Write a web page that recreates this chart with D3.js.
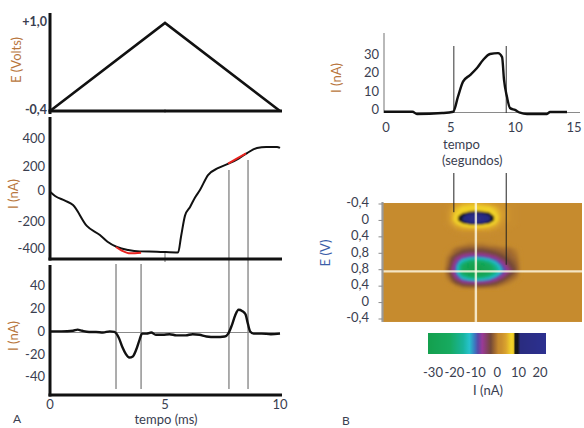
<!DOCTYPE html>
<html><head><meta charset="utf-8">
<script src="https://cdn.jsdelivr.net/npm/d3@7"></script>
<style>
html,body{margin:0;padding:0;background:#fff;}
svg{display:block;font-family:Lato,"Open Sans",sans-serif;}
</style></head><body>
<svg id="c" width="584" height="428"></svg>
<script>
// ================= DATA =================
// Panel A – top: applied potential ramp
const rampTime = [0, 5, 10];
const rampE = [-0.4, 1.0, -0.4];
const eTickValues = [-0.4, 1.0];
const eTickLabels = ["-0,4", "+1,0"];

// Panel A – middle: cyclic voltammogram current
const cvTime    = [0, 0.22, 0.65, 1.0, 1.6, 2.17, 2.5, 2.91, 3.4, 3.91, 4.65, 5.57, 5.7, 5.87, 6.09, 6.3, 6.52, 6.87, 7.3, 7.83, 8.2, 8.57, 9.0, 9.4, 9.87, 10];
const cvCurrent = [24, -7, -41, -73, -225, -291, -340, -378, -400, -410, -412, -418, -300, -150, -87, -20, 36, 145, 195, 233, 265, 305, 342, 350, 350, 342];
const cvTicks = [-400, -200, 0, 200, 400];
const red1Time = [2.87, 3.1, 3.5, 3.96];
const red1Current = [-378, -402, -424, -420];
const red2Time = [7.74, 8.1, 8.52];
const red2Current = [228, 262, 302];

// Panel A – bottom: background-subtracted current
const diffTime    = [0, 0.5, 1.0, 1.2, 1.4, 1.7, 2.0, 2.3, 2.6, 2.8, 3.0, 3.15, 3.3, 3.45, 3.6, 3.75, 3.9, 4.0, 4.2, 4.4, 4.6, 4.9, 5.2, 5.5, 5.9, 6.2, 6.5, 6.8, 7.2, 7.6, 7.75, 7.9, 8.05, 8.2, 8.35, 8.5, 8.6, 8.7, 8.85, 9.2, 9.6, 10];
const diffCurrent = [1, 1, 1.5, 2.5, 1.5, 0.5, 0.5, 0, 1, 0.5, -5, -13, -19, -22, -21, -15, -6, -1, -1, 0, -2, -2, -1.5, -2.5, -2.5, -1.5, -2, -3.5, -4, -3.5, -1, 6, 15, 20, 19, 16, 8, 1, -1, -1, -1.5, -1];
const diffTicks = [-40, -20, 0, 20, 40];
const msTicks = [0, 5, 10];
const windowTimes = [2.87, 3.96, 7.78, 8.61];

// Panel B – top: current vs time at the oxidation potential
const traceTime    = [0, 2.2, 2.55, 4.5, 5.35, 5.72, 6.11, 6.65, 7.19, 7.66, 8.2, 8.82, 9.13, 9.28, 9.51, 9.74, 10.13, 10.52, 11.06, 12.6, 12.84, 14.15];
const traceCurrent = [0.4, 0.4, -0.8, -0.3, 0.4, 8.7, 17, 20.6, 24.5, 28.9, 32.2, 32.7, 30.5, 17.9, 8.5, 2.5, 1.4, -0.1, -0.8, -0.8, 0.3, 0.3];
const traceYTicks = [0, 10, 20, 30];
const traceXTicks = [0, 5, 10, 15];
const markerTimes = [5.4, 9.45];
const markerEndPos = [0.5, 3.7];

// Panel B – colour plot (current, nA) ; columns = time (s), rows = potential sample index
const heatTimes = [4.5, 5, 5.5, 6, 6.5, 7, 7.5, 8, 8.5, 9, 9.5, 10, 10.5];
const heatPositions = [0, 0.25, 0.5, 0.75, 1, 1.25, 1.5, 1.75, 2, 2.25, 2.5, 2.75, 3, 3.25, 3.5, 3.75, 4, 4.25, 4.5, 4.75, 5, 5.25];
const heatValues = [
  [1, 2, 3.5, 4.5, 5, 5, 4.5, 4, 3, 2.5, 2, 1.5, 1],
  [1, 2.5, 5, 6.5, 7, 7.2, 7, 6.5, 5, 3, 2.5, 1.5, 1],
  [1, 3, 6, 7.5, 8.2, 8.5, 8.2, 7.8, 6, 3.5, 2.5, 1.5, 1],
  [1, 3, 7, 10, 15, 17, 15, 11, 7, 3.5, 2.5, 1.5, 1],
  [1, 3, 7, 10.5, 16, 18, 16, 11, 7, 3, 2.5, 1.5, 1],
  [1, 2.5, 5, 7, 7.8, 8, 7.8, 7, 5, 2.5, 2, 1.5, 1],
  [1, 1.5, 3, 4, 4.5, 4.5, 4.5, 4, 3, 2, 1.5, 1, 1],
  [1, 1, 1.5, 2, 2, 2, 2, 2, 1.5, 1, 1, 1, 1],
  [1, 1, 1, 1, 1, 1, 1, 1, 1, 1, 1, 1, 1],
  [1, 1, 1, 1, 0.5, 0.5, 0.5, 0.5, 1, 1, 1, 1, 1],
  [1, 1, 0.5, 0, -0.5, -0.5, -0.5, 0, 0, 0.5, 0.5, 1, 1],
  [1, 0.5, -1, -2, -2.5, -2.5, -2.5, -2, -1.5, -1, -1, 0, 1],
  [1, 0, -2, -4, -5, -5, -5, -4, -3, -2, -1.5, -0.5, 1],
  [1, -1, -5, -8, -10, -11, -10, -8, -6, -3.5, -2, -1, 1],
  [1, -1.5, -7, -15, -21, -23, -21, -17, -11, -6, -3, -1.5, 1],
  [1, -2, -9, -22, -29, -31, -29, -24, -16, -9, -4, -2, 1],
  [1, -3, -10, -23, -31, -33, -31, -26, -19, -11, -6, -2.5, 1],
  [1, -2, -9, -21, -28, -30, -28, -23, -16, -9, -4, -1.5, 1],
  [1, -1, -6, -13, -17, -19, -17, -14, -9, -5, -2, -0.5, 1],
  [1, 0, -3, -6, -7, -7.5, -7, -6, -4, -2, -0.5, 0.5, 1],
  [1, 1, 0, -1.5, -2, -2, -2, -1.5, -1, 0, 0.5, 1, 1],
  [1, 1, 1, 1, 1, 1, 1, 1, 1, 1, 1, 1, 1]
];
const heatBackground = 1;
const heatAxisLabels = ["-0,4", "0", "0,4", "0,8", "0,8", "0,4", "0", "-0,4"];
const crossTime = 7.0;
const crossPos = 4.1;
const colorbarTicks = [-30, -20, -10, 0, 10, 20];
const colorStopValues = [-32, -22, -16, -13, -10.5, -9, -7, -5, -3, -1, 0.5, 2, 4, 6.5, 7.6, 8.4, 9.6, 10.8, 23];
const colorStopColors = ["#14a04e", "#17aa60", "#19b49c", "#26c2cc", "#3c78c0", "#5a4aa8", "#9a3a98", "#86406a", "#744a38", "#a46c30", "#c48a2e", "#c98e2e", "#d9a22e", "#f2d42a", "#f0cc26", "#161616", "#14141c", "#2a2c80", "#2c3090"];

// ================= DRAW =================
const svg = d3.select("#c");
const tickColor = "#3a3e50";
const titleColor = "#b8763c";
const font = 13;

function label(x, y, txt, opts = {}) {
  const t = svg.append("text").attr("x", x).attr("y", y).text(txt)
    .attr("font-size", opts.size || font).attr("fill", opts.fill || tickColor)
    .attr("text-anchor", opts.anchor || "middle").attr("dominant-baseline", opts.base || "alphabetic");
  if (opts.rotate) t.attr("transform", `rotate(-90,${x},${y})`);
  if (opts.weight) t.attr("font-weight", opts.weight);
  return t;
}
function line(x1, y1, x2, y2, stroke, w) {
  svg.append("line").attr("x1", x1).attr("y1", y1).attr("x2", x2).attr("y2", y2)
    .attr("stroke", stroke).attr("stroke-width", w);
}

// ---------- Panel A ----------
const xA = d3.scaleLinear().domain([0, 10]).range([50, 280]);
const yE = d3.scaleLinear().domain([-0.4, 1.0]).range([111, 23]);
const yCV = d3.scaleLinear().domain([-400, 400]).range([250, 140]);
const yD = d3.scaleLinear().domain([-40, 40]).range([378, 287]);

windowTimes.forEach((t, i) => {
  const top = i < 2 ? 264 : (i === 2 ? 170 : 160);
  line(xA(t), top, xA(t), 389, "#8a8a8a", 1.4);
});
line(xA(0), yD(0), xA(10), yD(0), "#8a8a8a", 1);
line(xA(5), 252, xA(5), 262, "#777", 1);
line(xA(5), 109, xA(5), 113, "#999", 1);

line(50, 13, 50, 114, "#111", 3);
line(48.5, 111, 282, 111, "#111", 3);
line(50, 117, 50, 260.5, "#111", 3);
line(48.5, 259, 282, 259, "#111", 3);
line(50, 265, 50, 396.5, "#111", 3);
line(48.5, 395, 282, 395, "#111", 3);

svg.append("path").datum(rampTime.map((t, i) => [t, rampE[i]]))
  .attr("fill", "none").attr("stroke", "#111").attr("stroke-width", 2.6).attr("stroke-linejoin", "miter")
  .attr("d", d3.line().x(d => xA(d[0])).y(d => yE(d[1])));

svg.append("path").datum(cvTime.map((t, i) => [t, cvCurrent[i]]))
  .attr("fill", "none").attr("stroke", "#111").attr("stroke-width", 2)
  .attr("d", d3.line().x(d => xA(d[0])).y(d => yCV(d[1])).curve(d3.curveMonotoneX));
[[red1Time, red1Current], [red2Time, red2Current]].forEach(([ts, vs]) => {
  svg.append("path").datum(ts.map((t, i) => [t, vs[i]]))
    .attr("fill", "none").attr("stroke", "#e8231f").attr("stroke-width", 2)
    .attr("d", d3.line().x(d => xA(d[0])).y(d => yCV(d[1])).curve(d3.curveMonotoneX));
});

svg.append("path").datum(diffTime.map((t, i) => [t, diffCurrent[i]]))
  .attr("fill", "none").attr("stroke", "#111").attr("stroke-width", 2.4)
  .attr("d", d3.line().x(d => xA(d[0])).y(d => yD(d[1])).curve(d3.curveMonotoneX));

eTickValues.forEach((v, i) => label(47, yE(v), eTickLabels[i], {anchor: "end", base: "middle", size: 12.5, weight: 700}));
cvTicks.forEach(v => label(45, yCV(v) + (v === 0 ? -3 : 0), String(v), {anchor: "end", base: "middle"}));
diffTicks.forEach(v => label(45, yD(v), String(v), {anchor: "end", base: "middle"}));
msTicks.forEach(v => label(xA(v), 409, String(v)));
label(18, 60, "E (Volts)", {rotate: true, fill: titleColor, base: "middle"});
label(15, 194, "I (nA)", {rotate: true, fill: titleColor, base: "middle"});
label(15, 336, "I (nA)", {rotate: true, fill: titleColor, base: "middle"});
label(166, 424, "tempo (ms)");
label(17, 423, "A", {size: 12});

// ---------- Panel B top ----------
const xT = d3.scaleLinear().domain([0, 15]).range([384, 578]);
const yT = d3.scaleLinear().domain([0, 30]).range([112.5, 58]);
line(384, 33, 384, 113, "#8a8a8a", 1.2);
line(384, yT(0), 580, yT(0), "#8a8a8a", 1.2);
markerTimes.forEach(t => line(xT(t), 46, xT(t), 113, "#333", 1));
svg.append("path").datum(traceTime.map((t, i) => [t, traceCurrent[i]]))
  .attr("fill", "none").attr("stroke", "#111").attr("stroke-width", 2.4)
  .attr("d", d3.line().x(d => xT(d[0])).y(d => yT(d[1])).curve(d3.curveMonotoneX));
traceYTicks.forEach(v => label(379, yT(v) - 2, String(v), {anchor: "end", base: "middle"}));
traceXTicks.forEach(v => label(Math.min(xT(v) + 2, 574), 132, String(v)));
label(338, 78, "I (nA)", {rotate: true, fill: titleColor, base: "middle"});
label(443, 149, "tempo", {anchor: "start"});
label(442, 165, "(segundos)", {anchor: "start"});

// ---------- Panel B colour plot ----------
const xH = d3.scaleLinear().domain([0, 15]).range([383, 582]);
const yH = d3.scaleLinear().domain([0, 7]).range([204, 319]);
const color = d3.scaleLinear().domain(colorStopValues).range(colorStopColors).clamp(true);

const heatX0 = xH(0), heatX1 = xH(15), heatY0 = yH(-0.06), heatY1 = yH(7.18);
const defs = svg.append("defs");
defs.append("clipPath").attr("id", "hclip").append("rect")
  .attr("x", heatX0).attr("y", heatY0).attr("width", heatX1 - heatX0).attr("height", heatY1 - heatY0);
defs.append("filter").attr("id", "soft").attr("x", "-5%").attr("y", "-5%").attr("width", "110%").attr("height", "110%")
  .append("feGaussianBlur").attr("stdDeviation", 0.8);

const hg = svg.append("g").attr("clip-path", "url(#hclip)");
hg.append("rect").attr("x", heatX0).attr("y", heatY0).attr("width", heatX1 - heatX0).attr("height", heatY1 - heatY0)
  .attr("fill", color(heatBackground));

const nx = heatTimes.length, ny = heatPositions.length;
const dt = heatTimes[1] - heatTimes[0], dp = heatPositions[1] - heatPositions[0];
const flat = heatValues.flat();
const proj = d3.geoTransform({
  point(x, y) { this.stream.point(xH(heatTimes[0] + (x - 0.5) * dt), yH(heatPositions[0] + (y - 0.5) * dp)); }
});
const gpath = d3.geoPath(proj);
const cg = hg.append("g").attr("filter", "url(#soft)");
const posC = d3.contours().size([nx, ny]).thresholds(d3.range(1.25, 24, 0.25))(flat);
cg.selectAll("path.pos").data(posC).join("path").attr("class", "pos")
  .attr("d", gpath).attr("fill", d => color(d.value));
const negC = d3.contours().size([nx, ny]).thresholds(d3.range(-0.75, 34, 0.25))(flat.map(v => -v));
cg.selectAll("path.neg").data(negC).join("path").attr("class", "neg")
  .attr("d", gpath).attr("fill", d => color(-d.value));

hg.append("line").attr("x1", xH(crossTime)).attr("x2", xH(crossTime)).attr("y1", heatY0).attr("y2", heatY1)
  .attr("stroke", "#fffbe8").attr("stroke-opacity", 0.8).attr("stroke-width", 2.4);
hg.append("line").attr("x1", heatX0).attr("x2", heatX1).attr("y1", yH(crossPos)).attr("y2", yH(crossPos))
  .attr("stroke", "#fffbe8").attr("stroke-opacity", 0.8).attr("stroke-width", 2.4);

markerTimes.forEach((t, i) => line(xT(t), 173, xT(t), yH(markerEndPos[i]), "#222", 1));

line(382.5, heatY0 - 1, 382.5, heatY1, "#9a9a9a", 2.2);
heatAxisLabels.forEach((lab, i) => {
  line(378.5, yH(i), 382.5, yH(i), "#8a8a8a", 1);
  label(369, yH(i), lab, {anchor: "end", base: "middle"});
});
label(327, 253, "E (V)", {rotate: true, fill: "#3b5ea8", base: "middle"});

const xC = d3.scaleLinear().domain([-30, 20]).range([433, 540]);
const barX0 = 428, barX1 = 546;
const vMin = xC.invert(barX0), vMax = xC.invert(barX1);
const grad = defs.append("linearGradient").attr("id", "cbar").attr("x1", "0%").attr("x2", "100%").attr("y1", "0%").attr("y2", "0%");
d3.range(vMin, vMax + 0.001, 0.2).forEach(v => {
  grad.append("stop").attr("offset", ((v - vMin) / (vMax - vMin) * 100) + "%").attr("stop-color", color(v));
});
svg.append("rect").attr("x", barX0).attr("y", 333).attr("width", barX1 - barX0).attr("height", 21)
  .attr("fill", "url(#cbar)");
colorbarTicks.forEach(v => label(xC(v), 377, String(v)));
label(488, 395, "I (nA)");
label(346, 425, "B", {size: 12});
</script>
</body></html>
